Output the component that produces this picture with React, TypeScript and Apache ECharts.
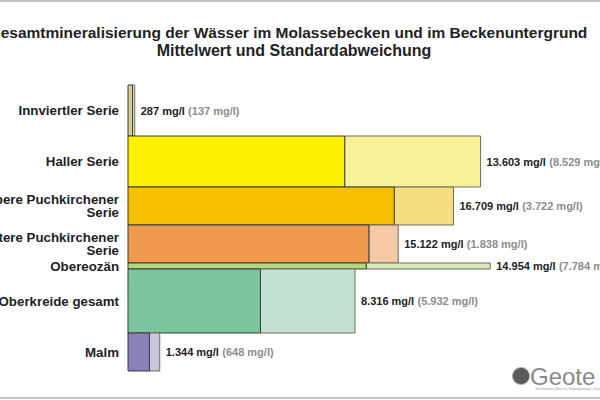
import React, { useEffect, useRef } from "react";
import * as echarts from "echarts";

const categories = [
  "Innviertler Serie",
  "Haller Serie",
  "Obere Puchkirchener\nSerie",
  "Untere Puchkirchener\nSerie",
  "Obereozän",
  "Oberkreide gesamt",
  "Malm",
];
const meanValues = [287, 13603, 16709, 15122, 14954, 8316, 1344];
const stdValues = [137, 8529, 3722, 1838, 7784, 5932, 648];
const sampleWeights = [51, 51, 38, 38, 6, 64, 38];
const meanColors = ["#d2ce98", "#fff200", "#f5c000", "#ef9a4c", "#b2d77e", "#7cc49e", "#8c80bb"];
const stdColors = ["#f2eeb0", "#f6f298", "#f5dc82", "#f5c9a6", "#d9e9c2", "#c3e1d2", "#c9c5dd"];

const fmt = (n: number) => String(n).replace(/\B(?=(\d{3})+(?!\d))/g, ".");

export default function App() {
  const ref = useRef<HTMLDivElement>(null);
  useEffect(() => {
    document.body.style.margin = "0";
    if (!ref.current) return;
    const chart = echarts.init(ref.current, undefined, { renderer: "svg" });
    const cum: number[] = [];
    let acc = 0;
    sampleWeights.forEach((w) => {
      cum.push(acc);
      acc += w;
    });
    const total = acc;
    const fontFamily = "'Liberation Sans', Arial, sans-serif";

    chart.setOption({
      animation: false,
      backgroundColor: "#ffffff",
      grid: { left: 128, right: 10, top: 85, bottom: 29 },
      xAxis: { type: "value", min: 0, max: 29000, show: false },
      yAxis: { type: "value", min: 0, max: total, inverse: true, show: false },
      series: [
        {
          type: "custom",
          data: categories.map((_, i) => [i]),
          renderItem: (params: any, api: any) => {
            const i = api.value(0);
            const y0 = cum[i];
            const y1 = cum[i] + sampleWeights[i];
            const m = meanValues[i];
            const s = stdValues[i];
            const pA = api.coord([0, y0]);
            const pB = api.coord([m, y1]);
            const pC = api.coord([m + s, y1]);
            const midY = (pA[1] + pB[1]) / 2;
            return {
              type: "group",
              children: [
                {
                  type: "rect",
                  shape: { x: pB[0], y: pA[1], width: pC[0] - pB[0], height: pB[1] - pA[1] },
                  style: { fill: stdColors[i], stroke: "#6e6e60", lineWidth: 1 },
                },
                {
                  type: "rect",
                  shape: { x: pA[0], y: pA[1], width: pB[0] - pA[0], height: pB[1] - pA[1] },
                  style: { fill: meanColors[i], stroke: "#3a3a3a", lineWidth: 1 },
                },
                {
                  type: "text",
                  x: pA[0] - 9,
                  y: midY,
                  style: {
                    text: categories[i],
                    textAlign: "right",
                    textVerticalAlign: "middle",
                    fontFamily,
                    fontSize: 13.3,
                    fontWeight: "bold",
                    lineHeight: 12.5,
                    fill: "#222222",
                  },
                },
                {
                  type: "text",
                  x: pC[0] + 6,
                  y: midY,
                  style: {
                    text: "{a|" + fmt(m) + " mg/l} {b|(" + fmt(s) + " mg/l)}",
                    textAlign: "left",
                    textVerticalAlign: "middle",
                    rich: {
                      a: { fontFamily, fontSize: 11, fontWeight: "bold", fill: "#222222" },
                      b: { fontFamily, fontSize: 11, fontWeight: "bold", fill: "#8c8c8c" },
                    },
                  },
                },
              ],
            };
          },
        },
      ],
      graphic: [
        { type: "line", shape: { x1: 0, y1: 1, x2: 600, y2: 1 }, style: { stroke: "#c4c4c4", lineWidth: 2 } },
        { type: "line", shape: { x1: 0, y1: 398, x2: 600, y2: 398 }, style: { stroke: "#c4c4c4", lineWidth: 2 } },
        {
          type: "text",
          x: 288,
          y: 32,
          style: {
            text: "Gesamtmineralisierung der Wässer im Molassebecken und im Beckenuntergrund",
            textAlign: "center",
            textVerticalAlign: "middle",
            fontFamily,
            fontSize: 15.5,
            fontWeight: "bold",
            fill: "#222222",
          },
        },
        {
          type: "text",
          x: 294,
          y: 50,
          style: {
            text: "Mittelwert und Standardabweichung",
            textAlign: "center",
            textVerticalAlign: "middle",
            fontFamily,
            fontSize: 16,
            fontWeight: "bold",
            fill: "#222222",
          },
        },
        { type: "circle", shape: { cx: 521, cy: 376, r: 8.5 }, style: { fill: "#5a5a5a", stroke: "#b0b0b0", lineWidth: 1 } },
        {
          type: "text",
          x: 530,
          y: 376,
          style: {
            text: "Geote",
            textVerticalAlign: "middle",
            fontFamily,
            fontSize: 24,
            fill: "#8a8a8a",
          },
        },
        {
          type: "text",
          x: 535,
          y: 389,
          style: {
            text: "Technisches Büro für Hydrogeologie, Geothermie",
            textVerticalAlign: "middle",
            fontFamily,
            fontSize: 3.5,
            fill: "#9a9a9a",
          },
        },
      ],
    });
    return () => chart.dispose();
  }, []);
  return <div ref={ref} style={{ width: 600, height: 400 }} />;
}
